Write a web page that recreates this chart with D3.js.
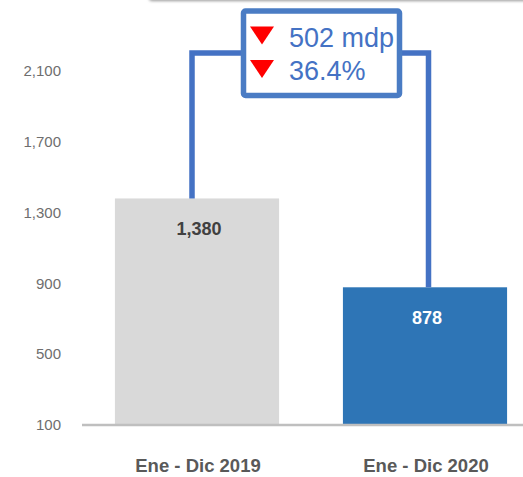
<!DOCTYPE html>
<html>
<head>
<meta charset="utf-8">
<script src="https://cdn.jsdelivr.net/npm/d3@7"></script>
<style>
    html, body { margin: 0; padding: 0; background: #fff; }
    svg { display: block; font-family: "Liberation Sans", Arial, sans-serif; }
</style>
</head>
<body>
<div class="chart"></div>
<script>
'use strict';

var categories = ['Ene - Dic 2019', 'Ene - Dic 2020'];
var values = [1380, 878];
var yTicks = [100, 500, 900, 1300, 1700, 2100];
var changeLabels = ['502 mdp', '36.4%'];

(function () {

    var width = 523;
    var height = 477;
    var blue = '#4472c4';

    var svg = d3.select('.chart')
        .append('svg')
        .attr('width', width)
        .attr('height', height);

    // shadow of the box cut off at the top edge
    var defs = svg.append('defs');
    var blur = defs.append('filter')
        .attr('id', 'shade')
        .attr('x', '-10%').attr('y', '-50%')
        .attr('width', '120%').attr('height', '200%');
    blur.append('feGaussianBlur').attr('stdDeviation', 1.6);

    svg.append('rect')
        .attr('x', 149).attr('y', -30)
        .attr('width', 420).attr('height', 31)
        .attr('rx', 3)
        .attr('fill', '#9a9a9a')
        .attr('filter', 'url(#shade)');
    svg.append('rect')
        .attr('x', 149).attr('y', -30)
        .attr('width', 420).attr('height', 29.5)
        .attr('fill', '#fff');

    var x = d3.scaleBand()
        .domain(categories)
        .range([83, 539])
        .paddingInner(0.28)
        .paddingOuter(0.14);

    var y = d3.scaleLinear()
        .domain([100, 2100])
        .range([425, 71]);

    // y tick labels
    svg.append('g')
        .selectAll('text')
        .data(yTicks)
        .enter()
        .append('text')
        .attr('x', 61)
        .attr('y', function (d) { return y(d); })
        .attr('dy', '0.35em')
        .attr('text-anchor', 'end')
        .attr('font-size', 15)
        .attr('fill', '#6e6e6e')
        .text(d3.format(','));

    // bars
    svg.append('g')
        .selectAll('rect')
        .data(values)
        .enter()
        .append('rect')
        .attr('x', function (d, i) { return x(categories[i]); })
        .attr('y', function (d) { return y(d); })
        .attr('width', x.bandwidth())
        .attr('height', function (d) { return y(100) - y(d); })
        .attr('fill', function (d, i) { return i == 0 ? '#d9d9d9' : '#2e75b6'; });

    // baseline
    svg.append('line')
        .attr('x1', 82).attr('x2', width)
        .attr('y1', y(100)).attr('y2', y(100))
        .attr('stroke', '#bfbfbf')
        .attr('stroke-width', 2.5);

    // value labels
    svg.append('g')
        .selectAll('text')
        .data(values)
        .enter()
        .append('text')
        .attr('x', function (d, i) { return x(categories[i]) + x.bandwidth() / 2 + 2; })
        .attr('y', function (d) { return y(d) + 37; })
        .attr('text-anchor', 'middle')
        .attr('font-size', 18)
        .attr('font-weight', 'bold')
        .attr('fill', function (d, i) { return i == 0 ? '#404040' : '#fff'; })
        .text(d3.format(','));

    // category labels
    svg.append('g')
        .selectAll('text')
        .data(categories)
        .enter()
        .append('text')
        .attr('x', function (d) { return x(d) + x.bandwidth() / 2 + 1; })
        .attr('y', 471.5)
        .attr('text-anchor', 'middle')
        .attr('font-size', 18.5)
        .attr('font-weight', 'bold')
        .attr('fill', '#595959')
        .text(function (d) { return d; });

    // bracket between the bars
    var leftX = x(categories[0]) + x.bandwidth() / 2 - 5;
    var rightX = x(categories[1]) + x.bandwidth() / 2 + 3.5;
    var topY = 53;

    svg.append('path')
        .attr('d', 'M' + leftX + ',' + y(values[0]) + 'V' + topY + 'H' + rightX + 'V' + y(values[1]))
        .attr('fill', 'none')
        .attr('stroke', blue)
        .attr('stroke-width', 5.5)
        .attr('stroke-linejoin', 'miter');

    // change box
    var box = svg.append('g');
    box.append('rect')
        .attr('x', 243.5).attr('y', 11)
        .attr('width', 156).attr('height', 84.5)
        .attr('rx', 2)
        .attr('fill', '#fff')
        .attr('stroke', '#4a7cc4')
        .attr('stroke-width', 5.5);

    changeLabels.forEach(function (label, i) {
        var base = 46.5 + i * 33.5;
        var tx = 262, ty = base - 20;
        box.append('path')
            .attr('d', 'M' + (tx - 12) + ',' + ty + 'L' + (tx + 12) + ',' + ty + 'L' + tx + ',' + (ty + 18) + 'Z')
            .attr('fill', '#ff0000');
        box.append('text')
            .attr('x', 289)
            .attr('y', base)
            .attr('font-size', 27)
            .attr('fill', blue)
            .text(label);
    });

})();
</script>
</body>
</html>
